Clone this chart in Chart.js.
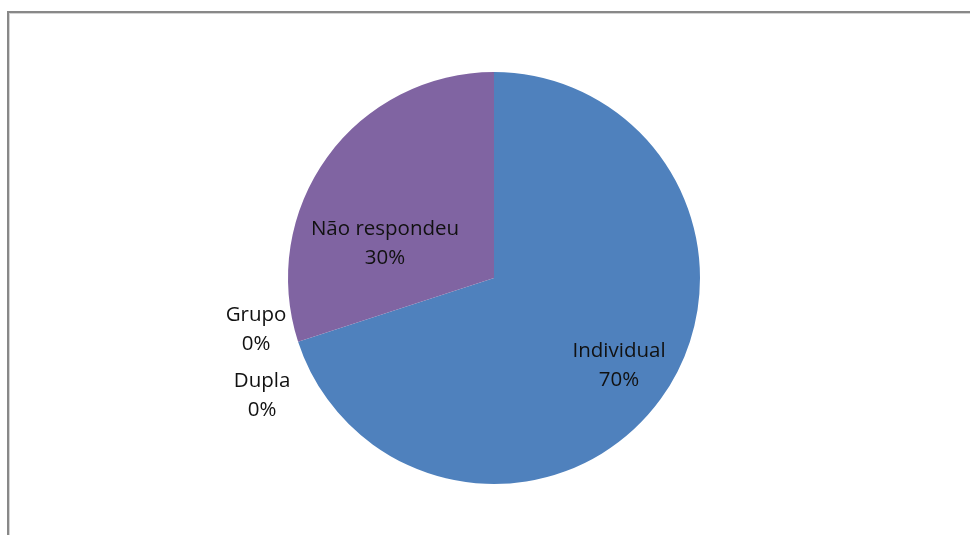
<!DOCTYPE html>
<html>
<head>
<meta charset="utf-8">
<script src="https://cdn.jsdelivr.net/npm/chart.js@4"></script>
<style>
  body { margin: 0; background: #fff; }
  .frame { position: absolute; left: 7px; top: 11px; width: 980px; height: 540px;
           border-left: 2px solid #888; border-top: 2px solid #888;
           box-shadow: inset 1px 1px 0 #d4d4d4; }
  #chart { position: absolute; left: 0; top: 0; }
</style>
</head>
<body>
<div class="frame"></div>
<canvas id="chart" width="970" height="535"></canvas>
<script>
const categorias = ['Individual', 'Dupla', 'Grupo', 'Não respondeu'];
const valores = [70, 0, 0, 30];
const rotulos = ['70%', '0%', '0%', '30%'];
const cores = ['#4F81BD', '#C0504D', '#9BBB59', '#8064A2'];

// posição dos rótulos em frações do raio, a partir do centro da pizza
const posRotulos = [[0.607, 0.427], [-1.126, 0.573], [-1.155, 0.252], [-0.529, -0.167]];

const rotulosPlugin = {
    id: 'rotulos',
    afterDatasetsDraw(chart) {
        const ctx = chart.ctx;
        const meta = chart.getDatasetMeta(0);
        ctx.save();
        ctx.font = '20.5px "Open Sans"';
        ctx.fillStyle = '#111';
        ctx.textAlign = 'center';
        ctx.textBaseline = 'middle';
        meta.data.forEach((arc, i) => {
            const r = arc.outerRadius;
            const x = arc.x + posRotulos[i][0] * r;
            const y = arc.y + posRotulos[i][1] * r;
            ctx.fillText(categorias[i], x, y - 14.5);
            ctx.fillText(rotulos[i], x, y + 14.5);
        });
        ctx.restore();
    }
};

new Chart(document.getElementById('chart'), {
    type: 'pie',
    data: {
        labels: categorias,
        datasets: [{
            data: valores,
            backgroundColor: cores,
            borderWidth: 0
        }]
    },
    options: {
        responsive: false,
        animation: false,
        layout: { padding: { left: 288, right: 270, top: 72, bottom: 51 } },
        plugins: { legend: { display: false }, tooltip: { enabled: false } }
    },
    plugins: [rotulosPlugin]
});
</script>
</body>
</html>
